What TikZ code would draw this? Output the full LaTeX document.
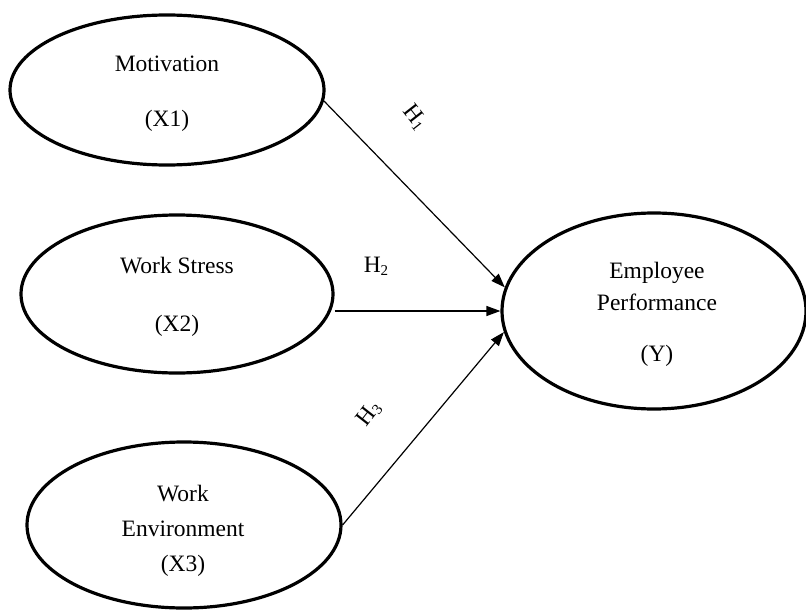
\documentclass[tikz,border=0pt]{standalone}
\usepackage{fontspec}
\setmainfont{Liberation Serif}
\usetikzlibrary{shapes.geometric,arrows.meta}
\newcommand{\sub}[1]{\raisebox{-0.25ex}{\fontsize{15}{15}\selectfont #1}}
\begin{document}
\begin{tikzpicture}[x=1pt,y=-1pt,
  latent/.style={ellipse,draw,line width=3.2pt,inner sep=0pt},
  lbl/.style={anchor=base,inner sep=0pt,font=\fontsize{23.5}{28}\selectfont},
  arr/.style={line width=1.2pt,-{Triangle[length=14pt,width=10pt]}}]
\useasboundingbox (0,0) rectangle (806,610);
% latent variables
\node[latent,minimum width=314pt,minimum height=150pt] (mot) at (167,90) {};
\node[latent,minimum width=312pt,minimum height=158pt] (ws) at (177,294) {};
\node[latent,minimum width=314pt,minimum height=166pt] (env) at (184,525) {};
\node[latent,minimum width=304pt,minimum height=196pt] (ep) at (654,311) {};
% texts
\node[lbl] (t1a) at (167,71) {Motivation};
\node[lbl] (t1b) at (167,126) {(X1)};
\node[lbl] (t2a) at (177,273) {Work Stress};
\node[lbl] (t2b) at (177,331) {(X2)};
\node[lbl] (t3a) at (183,501) {Work};
\node[lbl] (t3b) at (183,536) {Environment};
\node[lbl] (t3c) at (183,571) {(X3)};
\node[lbl] (t4a) at (657,278) {Employee};
\node[lbl] (t4b) at (657,310) {Performance};
\node[lbl] (t4c) at (657,361) {(Y)};
% paths
\draw[arr] (mot.-4) -- (ep.171);
\draw[arr] (ws.east |- ep.west) -- (ep.west);
\draw[arr] (env.east) -- (ep.188);
% hypothesis labels
\node[lbl,anchor=center,rotate=-52] (h1) at (415,117) {H\sub{1}};
\node[lbl,anchor=center] (h2) at (376,266) {H\sub{2}};
\node[lbl,anchor=center,rotate=52] (h3) at (369,414) {H\sub{3}};
\end{tikzpicture}
\end{document}
